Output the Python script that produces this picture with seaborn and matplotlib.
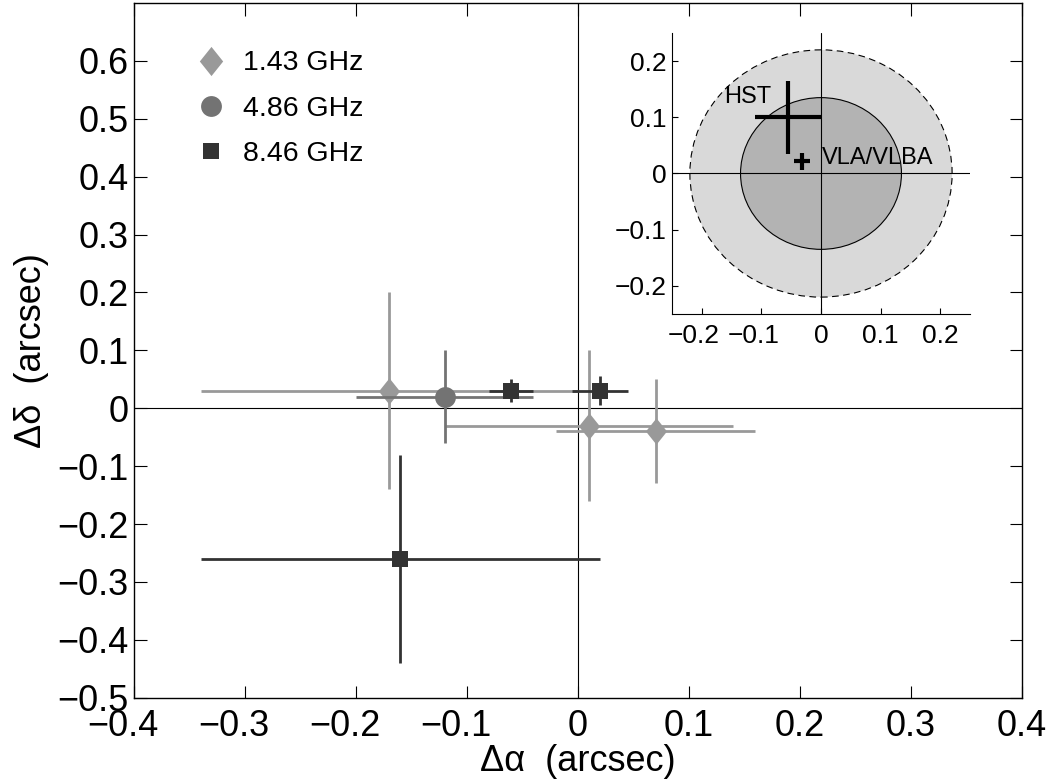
import numpy as np
import pandas as pd
import seaborn as sns
import matplotlib
matplotlib.use("Agg")
import matplotlib.pyplot as plt
from matplotlib.lines import Line2D
from matplotlib.patches import Circle
from matplotlib.transforms import ScaledTranslation

# ---------------- data ----------------
series = ["1.43 GHz", "4.86 GHz", "8.46 GHz"]
ra_143 = [-0.17, 0.01, 0.07]
dec_143 = [0.03, -0.03, -0.04]
err_143 = [0.17, 0.13, 0.09]

ra_486 = [-0.12]
dec_486 = [0.02]
err_486 = [0.08]

ra_846 = [-0.06, 0.02, -0.16]
dec_846 = [0.03, 0.03, -0.26]
err_846 = [0.02, 0.025, 0.18]

# inset
inset_radii = [0.22, 0.135]
hst_pos = [-0.055, 0.10]
hst_err = [0.055, 0.065]
vla_pos = [-0.032, 0.022]
vla_err = [0.014, 0.015]
inset_labels = ["HST", "VLA/VLBA"]

xticks_main = [-0.4, -0.3, -0.2, -0.1, 0, 0.1, 0.2, 0.3, 0.4]
yticks_main = [-0.5, -0.4, -0.3, -0.2, -0.1, 0, 0.1, 0.2, 0.3, 0.4, 0.5, 0.6]
ticks_inset = [-0.2, -0.1, 0, 0.1, 0.2]

# ---------------- style ----------------
sns.set_style("ticks")
plt.rcParams["font.family"] = ["Liberation Sans", "DejaVu Sans"]
plt.rcParams["axes.unicode_minus"] = True
plt.rcParams["text.color"] = "black"
plt.rcParams["axes.labelcolor"] = "black"

colors = {"1.43 GHz": "#999999", "4.86 GHz": "#737373", "8.46 GHz": "#333333"}
diamond = [(0, 1), (0.8, 0), (0, -1), (-0.8, 0)]
markers = {"1.43 GHz": diamond, "4.86 GHz": "o", "8.46 GHz": "s"}
msizes = {"1.43 GHz": 19, "4.86 GHz": 15, "8.46 GHz": 12}

def fmt_tick(v):
    s = f"{v:g}"
    return s.replace("-", "\u2212")

fig = plt.figure(figsize=(10.5, 7.82), dpi=100)
ax = fig.add_axes([0.1276, 0.1078, 0.8455, 0.8884])

df = pd.concat([
    pd.DataFrame({"ra": ra_143, "dec": dec_143, "err": err_143, "band": series[0]}),
    pd.DataFrame({"ra": ra_486, "dec": dec_486, "err": err_486, "band": series[1]}),
    pd.DataFrame({"ra": ra_846, "dec": dec_846, "err": err_846, "band": series[2]}),
], ignore_index=True)

for i, band in enumerate(series):
    sub = df[df["band"] == band]
    z = 3 + 2 * i
    ax.errorbar(sub["ra"], sub["dec"], xerr=sub["err"], yerr=sub["err"], fmt="none",
                ecolor=colors[band], elinewidth=2.0, capsize=0, zorder=z)
    sns.scatterplot(data=sub, x="ra", y="dec", ax=ax, marker=markers[band],
                    color=colors[band], s=msizes[band] ** 2, linewidth=0,
                    legend=False, zorder=z + 1)

ax.axhline(0, color="black", lw=0.8, zorder=2.5)
ax.axvline(0, color="black", lw=0.8, zorder=2.5)

ax.set_xlim(-0.4, 0.4)
ax.set_ylim(-0.5, 0.7)
ax.set_xticks(xticks_main)
ax.set_yticks(yticks_main)
ax.set_xticklabels([fmt_tick(v) for v in xticks_main])
ax.set_yticklabels([fmt_tick(v) for v in yticks_main])
ax.tick_params(direction="in", length=9, width=0.8, top=True, right=True,
               labelsize=26, colors="black")
ax.tick_params(axis="x", pad=8)
ax.tick_params(axis="y", pad=4)
for sp in ax.spines.values():
    sp.set_visible(True)
    sp.set_linewidth(1.0)
    sp.set_color("black")
ax.set_xlabel("\u0394\u03b1  (arcsec)", fontsize=26, labelpad=0)
ax.set_ylabel("\u0394\u03b4  (arcsec)", fontsize=26, labelpad=6)

handles = [Line2D([], [], ls="none", marker=markers[b], color=colors[b],
                  markersize={"1.43 GHz": 21, "4.86 GHz": 15, "8.46 GHz": 12}[b],
                  markeredgewidth=0) for b in series]
ax.legend(handles, series, loc="upper left", frameon=False, fontsize=20.5,
          bbox_to_anchor=(0.055, 0.948), handletextpad=0.5, labelspacing=0.68,
          handlelength=1.2, borderaxespad=0)

# ---------------- inset ----------------
axi = fig.add_axes([0.640, 0.5985, 0.2838, 0.3593])
axi.set_facecolor("white")
axi.add_patch(Circle((0, 0), inset_radii[0], facecolor="#d9d9d9", edgecolor="black",
                     lw=0.8, ls=(0, (6, 4)), zorder=1))
axi.add_patch(Circle((0, 0), inset_radii[1], facecolor="#b3b3b3", edgecolor="black",
                     lw=0.8, zorder=2))
axi.axhline(0, color="black", lw=0.8, zorder=3)
axi.axvline(0, color="black", lw=0.8, zorder=3)
axi.errorbar([hst_pos[0]], [hst_pos[1]], xerr=[hst_err[0]], yerr=[hst_err[1]],
             fmt="none", ecolor="black", elinewidth=3, capsize=0, zorder=4)
axi.errorbar([vla_pos[0]], [vla_pos[1]], xerr=[vla_err[0]], yerr=[vla_err[1]],
             fmt="none", ecolor="black", elinewidth=3, capsize=0, zorder=4)
axi.text(-0.162, 0.137, inset_labels[0], fontsize=17, va="center", ha="left", zorder=5)
axi.text(0.002, 0.027, inset_labels[1], fontsize=17, va="center", ha="left", zorder=5)
axi.set_xlim(-0.25, 0.25)
axi.set_ylim(-0.25, 0.25)
axi.set_xticks(ticks_inset)
axi.set_yticks(ticks_inset)
axi.set_xticklabels([fmt_tick(v) for v in ticks_inset])
axi.set_yticklabels([fmt_tick(v) for v in ticks_inset])
axi.tick_params(direction="in", length=4, width=0.8, labelsize=19, colors="black")
axi.tick_params(axis="x", pad=7)
axi.tick_params(axis="y", pad=4)
axi.spines["top"].set_visible(False)
axi.spines["right"].set_visible(False)
for s in ["left", "bottom"]:
    axi.spines[s].set_linewidth(0.8)
    axi.spines[s].set_color("black")

# centre negative x tick labels on their digits (minus sign hangs left)
for a, shift_pt in [(ax, 7.8), (axi, 5.8)]:
    for lab in a.get_xticklabels():
        if lab.get_text().startswith("\u2212"):
            lab.set_transform(lab.get_transform() +
                              ScaledTranslation(-shift_pt / 72, 0, fig.dpi_scale_trans))

fig.savefig("out.png", dpi=100)
